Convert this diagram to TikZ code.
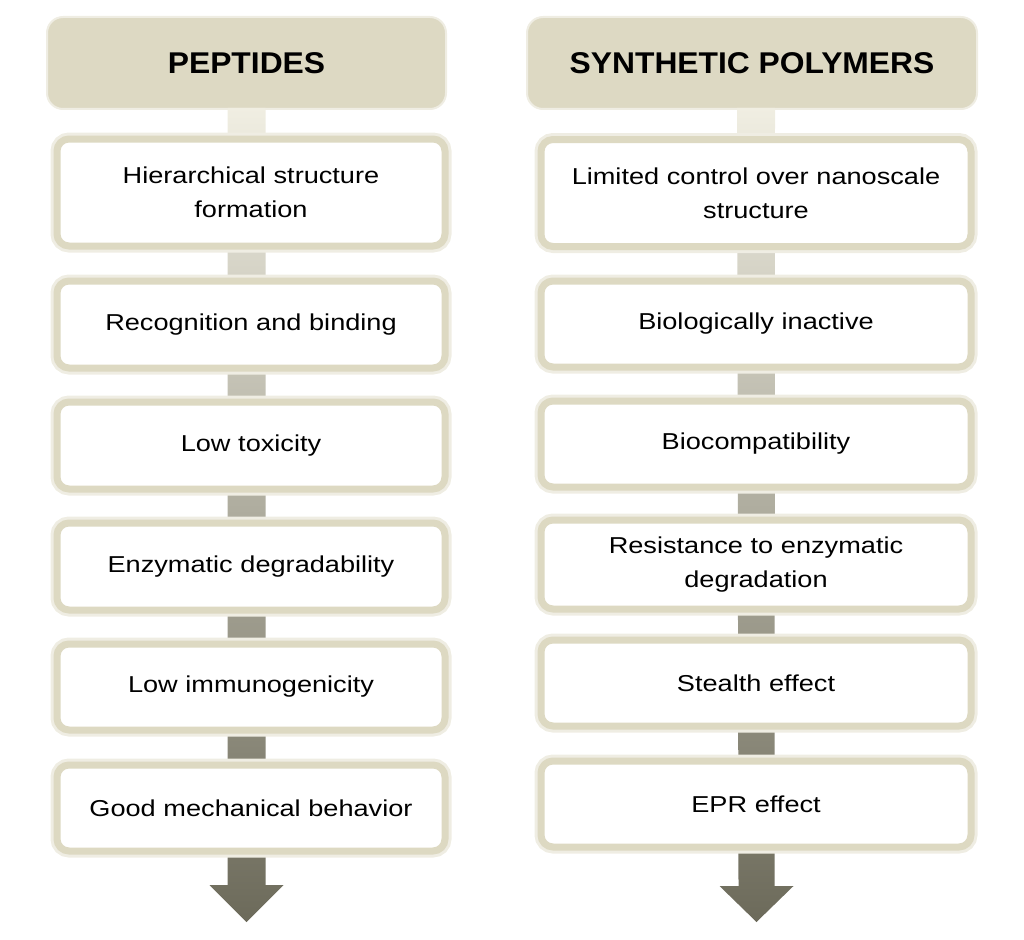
\documentclass[tikz,border=0pt]{standalone}
\usepackage{fontspec}
\setmainfont{Liberation Sans}
\newfontfamily\bodyfont[FakeStretch=1.18]{Liberation Sans}
\newfontfamily\hdrfont[FakeStretch=1.06]{Liberation Sans}
\usetikzlibrary{calc}
\definecolor{hdrfill}{HTML}{DDD9C3}
\definecolor{boxline}{HTML}{DDD9C2}
\definecolor{glow}{HTML}{EFEDE3}
\definecolor{bartop}{HTML}{F0EEE2}
\definecolor{barbot}{HTML}{6C6A5A}
\begin{document}
\begin{tikzpicture}[x=1pt,y=-1pt,
  hdr/.style={rectangle, rounded corners=16pt, fill=hdrfill, draw=glow, line width=2pt,
    minimum height=92pt, inner sep=0pt, font=\hdrfont\fontsize{30}{34}\selectfont\bfseries},
  itembox/.style={rectangle, rounded corners=12pt, fill=white, draw=boxline, line width=7pt,
    preaction={draw=glow, line width=13pt},
    inner sep=0pt, align=center, font=\bodyfont\fontsize{23}{34}\selectfont},
  bar/.style={top color=bartop, bottom color=barbot}
]
\useasboundingbox (0,0) rectangle (1024,939);
% headers
\node[hdr, minimum width=399pt] (hL) at (246.5,63) {PEPTIDES};
\node[hdr, minimum width=450pt] (hR) at (752,63) {SYNTHETIC POLYMERS};
% arrows (bars) behind boxes
\coordinate (tipL) at (246.5,922);
\coordinate (tipR) at (756.5,922);
\shade[bar] ($(hL.south)+(-19,-2)$) -- ($(tipL)+(-19,-37)$) -- ($(tipL)+(-37,-37)$) -- (tipL)
  -- ($(tipL)+(37,-37)$) -- ($(tipL)+(19,-37)$) -- ($(hL.south)+(19,-2)$) -- cycle;
\shade[bar] ($(hR.south)+(-15,-2)$) -- ($(tipR)+(-18,-36)$) -- ($(tipR)+(-37,-36)$) -- (tipR)
  -- ($(tipR)+(37,-36)$) -- ($(tipR)+(18,-36)$) -- ($(hR.south)+(23,-2)$) -- cycle;
% left boxes
\begin{scope}[every node/.append style={itembox, minimum width=388pt, text width=380pt}]
\node[minimum height=107pt] (L1) at (251,192.5) {Hierarchical structure\\formation};
\node[minimum height=87pt] (L2) at (251,324.5) {Recognition and binding};
\node[minimum height=87pt] (L3) at (251,445.5) {Low toxicity};
\node[minimum height=87pt] (L4) at (251,566.5) {Enzymatic degradability};
\node[minimum height=86pt] (L5) at (251,687) {Low immunogenicity};
\node[minimum height=86pt] (L6) at (251,808) {Good mechanical behavior};
\end{scope}
% right boxes
\begin{scope}[every node/.append style={itembox, minimum width=430pt, text width=420pt}]
\node[minimum height=107pt] (R1) at (756,193) {Limited control over nanoscale\\structure};
\node[minimum height=86pt] (R2) at (756,324) {Biologically inactive};
\node[minimum height=86pt] (R3) at (756,444) {Biocompatibility};
\node[minimum height=89pt] (R4) at (756,564.5) {Resistance to enzymatic\\degradation};
\node[minimum height=86pt] (R5) at (756,683) {Stealth effect};
\node[minimum height=86pt] (R6) at (756,804) {EPR effect};
\end{scope}
\end{tikzpicture}
\end{document}
